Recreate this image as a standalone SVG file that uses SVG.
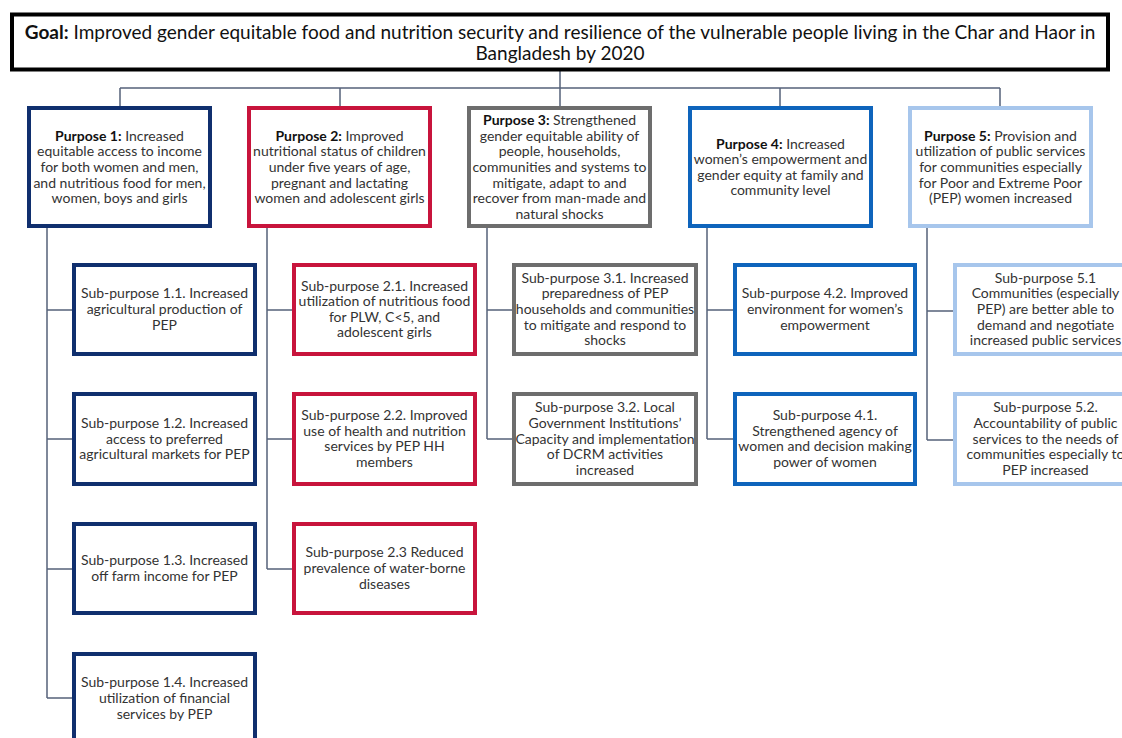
<svg xmlns="http://www.w3.org/2000/svg" width="1122" height="738" viewBox="0 0 1122 738">
<style>
.bg{fill:#ffffff}
.box{fill:#ffffff;stroke-width:4}
.goal{stroke:#000000}
.c1{stroke:#102F6E}
.c2{stroke:#C8143C}
.c3{stroke:#6D6D6D}
.c4{stroke:#0E64BC}
.c5{stroke:#A7C6EC}
.t{font-family:Lato,"Liberation Sans",sans-serif;font-size:14px;fill:#333333;text-anchor:middle}
.tg{font-family:Lato,"Liberation Sans",sans-serif;font-size:19px;fill:#111111;text-anchor:middle}
.b{font-weight:bold;fill:#111111}
.conn{fill:none;stroke:#56627A;stroke-width:1.5}
</style>
<rect class="bg" x="0" y="0" width="1122" height="738"/>
<g id="connectors">
<path class="conn" d="M560,71V88M120,88H1000M120,88V106M340,88V106M560,88V106M780,88V106M1000,88V106"/>
<path class="conn" d="M47,228V698M47,310H72M47,439H72M47,569H72M47,698H72"/>
<path class="conn" d="M267,228V569M267,310H292M267,439H292M267,569H292"/>
<path class="conn" d="M487,228V439M487,310H512M487,439H512"/>
<path class="conn" d="M707,228V439M707,310H733M707,439H733"/>
<path class="conn" d="M927,228V440M927,311H953M927,440H953"/>
</g>
<g id="goal">
<rect class="box goal" x="12" y="14.5" width="1096" height="55"/>
<text class="tg" x="560" y="38.5"><tspan class="b">Goal:</tspan> Improved gender equitable food and nutrition security and resilience of the vulnerable people living in the Char and Haor in</text>
<text class="tg" x="560" y="59.5">Bangladesh by 2020</text>
</g>
<g id="purpose1">
<rect class="box c1" x="29" y="108" width="181" height="118"/>
<text class="t" x="119.5" y="140.8"><tspan class="b">Purpose 1:</tspan> Increased<tspan x="119.5" dy="15.6">equitable access to income</tspan><tspan x="119.5" dy="15.6">for both women and men,</tspan><tspan x="119.5" dy="15.6">and nutritious food for men,</tspan><tspan x="119.5" dy="15.6">women, boys and girls</tspan></text>
</g>
<g id="purpose2">
<rect class="box c2" x="249" y="108" width="181" height="118"/>
<text class="t" x="339.5" y="140.8"><tspan class="b">Purpose 2:</tspan> Improved<tspan x="339.5" dy="15.6">nutritional status of children</tspan><tspan x="339.5" dy="15.6">under five years of age,</tspan><tspan x="339.5" dy="15.6">pregnant and lactating</tspan><tspan x="339.5" dy="15.6">women and adolescent girls</tspan></text>
</g>
<g id="purpose3">
<rect class="box c3" x="469" y="108" width="181" height="118"/>
<text class="t" x="559.5" y="125.2"><tspan class="b">Purpose 3:</tspan> Strengthened<tspan x="559.5" dy="15.6">gender equitable ability of</tspan><tspan x="559.5" dy="15.6">people, households,</tspan><tspan x="559.5" dy="15.6">communities and systems to</tspan><tspan x="559.5" dy="15.6">mitigate, adapt to and</tspan><tspan x="559.5" dy="15.6">recover from man-made and</tspan><tspan x="559.5" dy="15.6">natural shocks</tspan></text>
</g>
<g id="purpose4">
<rect class="box c4" x="690" y="108" width="181" height="118"/>
<text class="t" x="780.5" y="148.6"><tspan class="b">Purpose 4:</tspan> Increased<tspan x="780.5" dy="15.6">women’s empowerment and</tspan><tspan x="780.5" dy="15.6">gender equity at family and</tspan><tspan x="780.5" dy="15.6">community level</tspan></text>
</g>
<g id="purpose5">
<rect class="box c5" x="910" y="108" width="181" height="118"/>
<text class="t" x="1000.5" y="140.8"><tspan class="b">Purpose 5:</tspan> Provision and<tspan x="1000.5" dy="15.6">utilization of public services</tspan><tspan x="1000.5" dy="15.6">for communities especially</tspan><tspan x="1000.5" dy="15.6">for Poor and Extreme Poor</tspan><tspan x="1000.5" dy="15.6">(PEP) women increased</tspan></text>
</g>
<g id="sub1-1">
<rect class="box c1" x="74" y="265" width="181" height="89"/>
<text class="t" x="164.5" y="298.4">Sub-purpose 1.1.  Increased<tspan x="164.5" dy="15.6">agricultural production of</tspan><tspan x="164.5" dy="15.6">PEP</tspan></text>
</g>
<g id="sub1-2">
<rect class="box c1" x="74" y="394" width="181" height="90"/>
<text class="t" x="164.5" y="427.9">Sub-purpose 1.2.  Increased<tspan x="164.5" dy="15.6">access to preferred</tspan><tspan x="164.5" dy="15.6">agricultural markets for PEP</tspan></text>
</g>
<g id="sub1-3">
<rect class="box c1" x="74" y="524" width="181" height="89"/>
<text class="t" x="164.5" y="565.2">Sub-purpose 1.3. Increased<tspan x="164.5" dy="15.6">off farm income for PEP</tspan></text>
</g>
<g id="sub1-4">
<rect class="box c1" x="74" y="654" width="181" height="89"/>
<text class="t" x="164.5" y="687.4">Sub-purpose 1.4. Increased<tspan x="164.5" dy="15.6">utilization of financial</tspan><tspan x="164.5" dy="15.6">services by PEP</tspan></text>
</g>
<g id="sub2-1">
<rect class="box c2" x="294" y="265" width="181" height="89"/>
<text class="t" x="384.5" y="290.6">Sub-purpose 2.1. Increased<tspan x="384.5" dy="15.6">utilization of nutritious food</tspan><tspan x="384.5" dy="15.6">for PLW, C&lt;5, and</tspan><tspan x="384.5" dy="15.6">adolescent girls</tspan></text>
</g>
<g id="sub2-2">
<rect class="box c2" x="294" y="394" width="181" height="90"/>
<text class="t" x="384.5" y="420.1">Sub-purpose 2.2. Improved<tspan x="384.5" dy="15.6">use of health and nutrition</tspan><tspan x="384.5" dy="15.6">services by PEP HH</tspan><tspan x="384.5" dy="15.6">members</tspan></text>
</g>
<g id="sub2-3">
<rect class="box c2" x="294" y="524" width="181" height="89"/>
<text class="t" x="384.5" y="557.4">Sub-purpose 2.3 Reduced<tspan x="384.5" dy="15.6">prevalence of water-borne</tspan><tspan x="384.5" dy="15.6">diseases</tspan></text>
</g>
<g id="sub3-1">
<rect class="box c3" x="514" y="265" width="182" height="89"/>
<text class="t" x="605" y="282.8">Sub-purpose 3.1. Increased<tspan x="605" dy="15.6">preparedness of PEP</tspan><tspan x="605" dy="15.6">households and communities</tspan><tspan x="605" dy="15.6">to mitigate and respond to</tspan><tspan x="605" dy="15.6">shocks</tspan></text>
</g>
<g id="sub3-2">
<rect class="box c3" x="514" y="394" width="182" height="90"/>
<text class="t" x="605" y="412.3">Sub-purpose 3.2. Local<tspan x="605" dy="15.6">Government Institutions’</tspan><tspan x="605" dy="15.6">Capacity and implementation</tspan><tspan x="605" dy="15.6">of DCRM activities</tspan><tspan x="605" dy="15.6">increased</tspan></text>
</g>
<g id="sub4-2">
<rect class="box c4" x="735" y="265" width="180" height="89"/>
<text class="t" x="825" y="298.4">Sub-purpose 4.2. Improved<tspan x="825" dy="15.6">environment for women’s</tspan><tspan x="825" dy="15.6">empowerment</tspan></text>
</g>
<g id="sub4-1">
<rect class="box c4" x="735" y="394" width="180" height="90"/>
<text class="t" x="825" y="420.1">Sub-purpose 4.1.<tspan x="825" dy="15.6">Strengthened agency of</tspan><tspan x="825" dy="15.6">women and decision making</tspan><tspan x="825" dy="15.6">power of women</tspan></text>
</g>
<g id="sub5-1">
<rect class="box c5" x="955" y="265" width="181" height="89"/>
<text class="t" x="1045.5" y="282.8">Sub-purpose 5.1<tspan x="1045.5" dy="15.6">Communities (especially</tspan><tspan x="1045.5" dy="15.6">PEP) are better able to</tspan><tspan x="1045.5" dy="15.6">demand and negotiate</tspan><tspan x="1045.5" dy="15.6">increased public services</tspan></text>
</g>
<g id="sub5-2">
<rect class="box c5" x="955" y="394" width="181" height="90"/>
<text class="t" x="1045.5" y="412.3">Sub-purpose 5.2.<tspan x="1045.5" dy="15.6">Accountability of public</tspan><tspan x="1045.5" dy="15.6">services to the needs of</tspan><tspan x="1045.5" dy="15.6">communities especially to</tspan><tspan x="1045.5" dy="15.6">PEP increased</tspan></text>
</g>
</svg>
